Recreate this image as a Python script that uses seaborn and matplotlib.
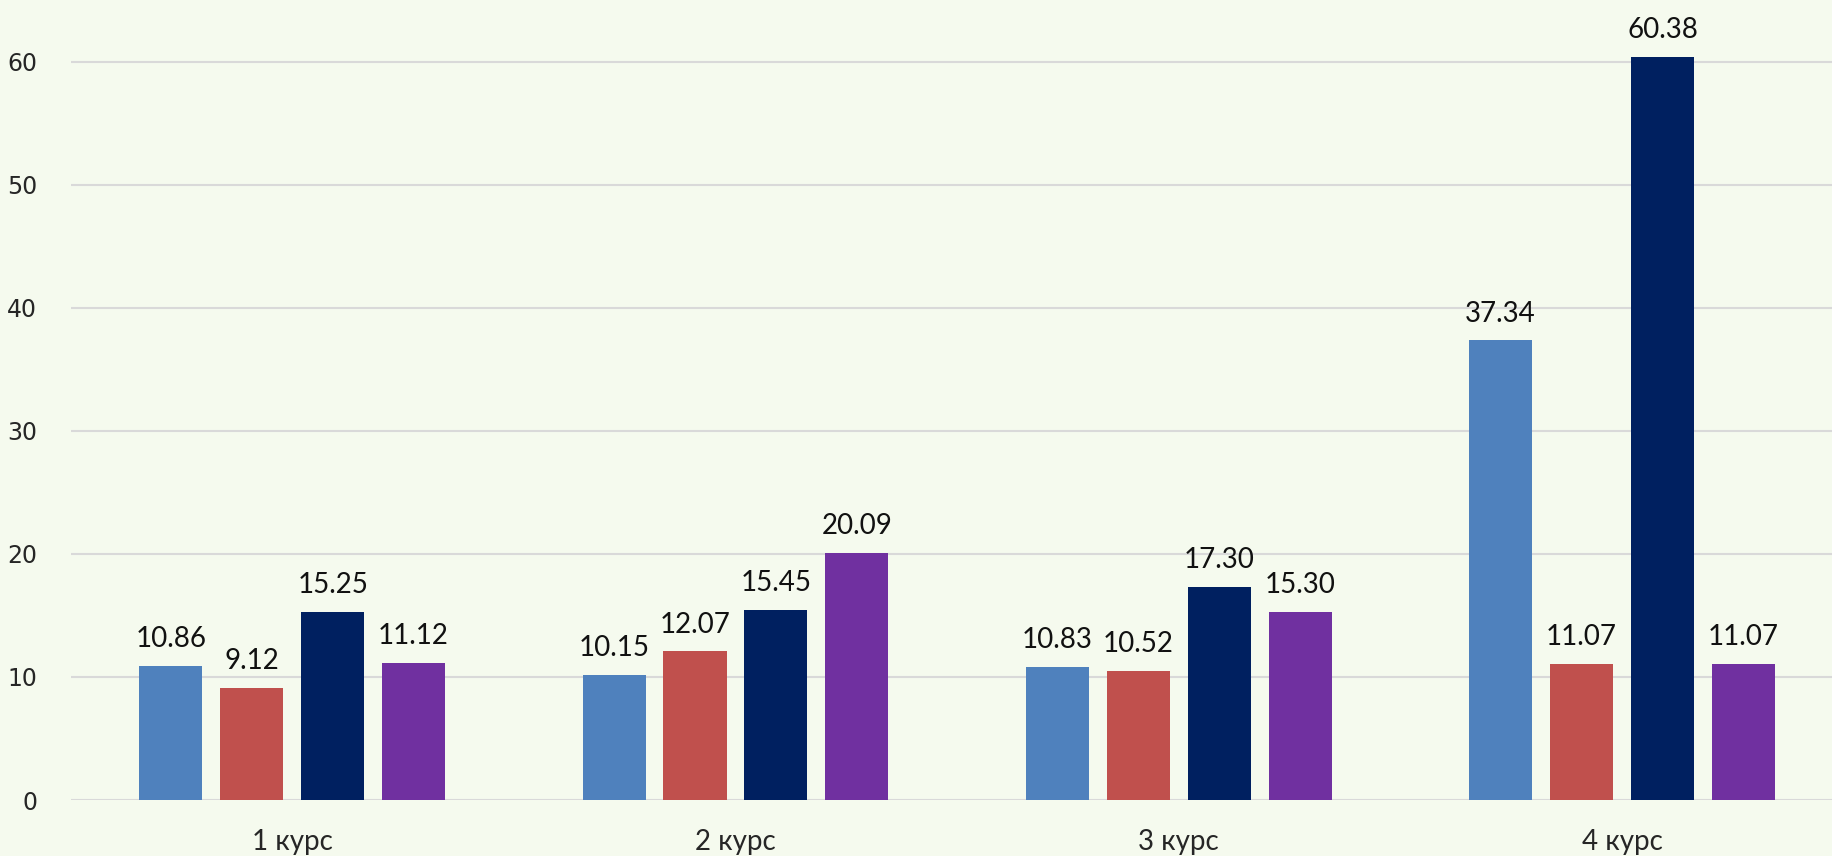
import pandas as pd
import matplotlib.pyplot as plt
import seaborn as sns

# Data
courses = ["1 курс", "2 курс", "3 курс", "4 курс"]
series_names = ["Ряд 1", "Ряд 2", "Ряд 3", "Ряд 4"]
s1 = [10.86, 10.15, 10.83, 37.34]
s2 = [9.12, 12.07, 10.52, 11.07]
s3 = [15.25, 15.45, 17.30, 60.38]
s4 = [11.12, 20.09, 15.30, 11.07]
colors = ["#4F81BD", "#C0504D", "#002060", "#7030A0"]

rows = []
for name, vals in zip(series_names, [s1, s2, s3, s4]):
    for c, v in zip(courses, vals):
        rows.append({"course": c, "series": name, "value": v})
df = pd.DataFrame(rows)

bg = "#F5FAEE"
sns.set_style("white")
plt.rcParams['font.family'] = ['Lato', 'DejaVu Sans']

fig = plt.figure(figsize=(18.33, 8.56), dpi=100, facecolor=bg)
ax = fig.add_axes([0.0385, 0.0654, 0.9673, 0.9346])
ax.set_facecolor(bg)

sns.barplot(data=df, x="course", y="value", hue="series", order=courses,
            hue_order=series_names, palette=colors, width=0.73, gap=0.22,
            linewidth=0, saturation=1, legend=False, ax=ax)

for cont in ax.containers:
    ax.bar_label(cont, fmt="%.2f", padding=10, fontsize=20, color="#111111")

ax.set_ylim(0, 65)
ax.set_xlim(-0.5, 3.5)
ax.set_yticks(range(0, 61, 10))
ax.yaxis.grid(True, color="#D9D9D9", linewidth=1.5)
ax.set_axisbelow(True)
for s in ax.spines.values():
    s.set_visible(False)
ax.set_xlabel("")
ax.set_ylabel("")
ax.tick_params(axis="y", length=0, pad=24, labelsize=17)
ax.tick_params(axis="x", length=0, pad=21, labelsize=20)
for lbl in ax.get_yticklabels():
    lbl.set_family("DejaVu Sans")

fig.savefig("out.png", dpi=100, facecolor=bg)
